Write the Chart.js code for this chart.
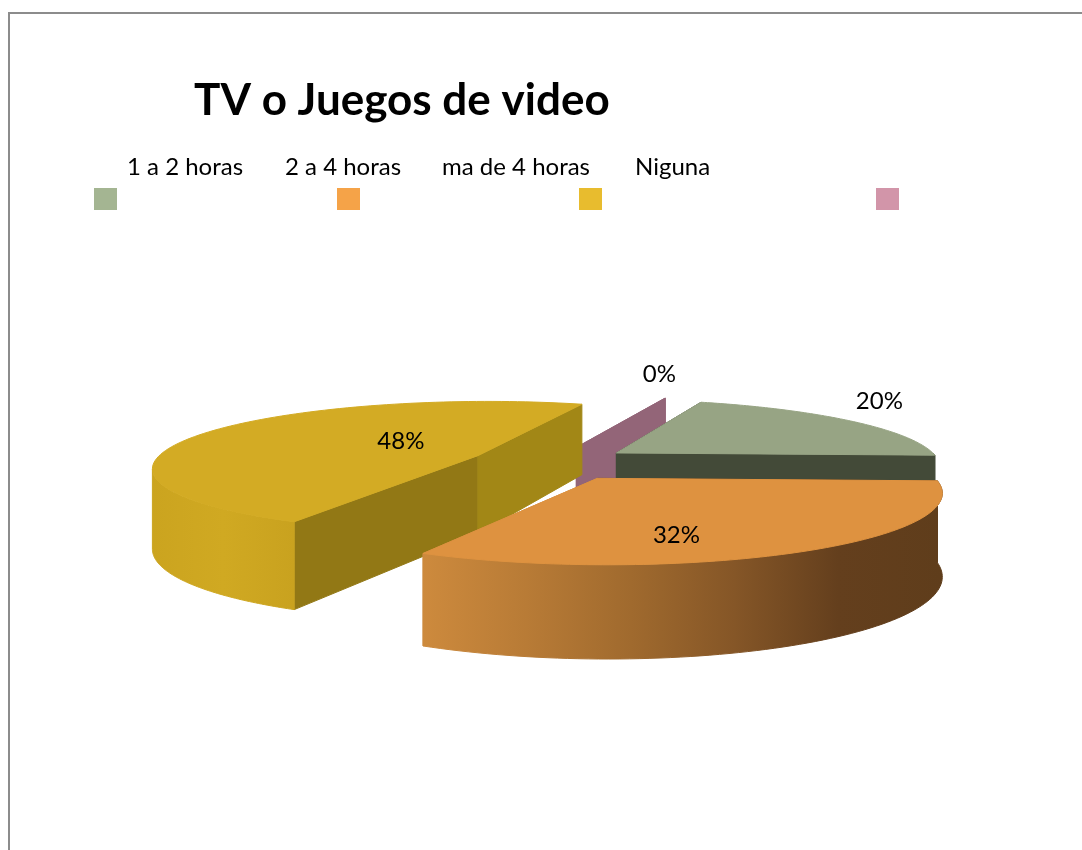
<!DOCTYPE html>
<html>
<head>
<meta charset="utf-8">
<script src="https://cdn.jsdelivr.net/npm/chart.js@4"></script>
<style>
html,body{margin:0;padding:0;background:#fff;overflow:hidden}
#frame{position:absolute;left:8px;top:12px;width:1200px;height:1000px;border:2px solid #8c8c8c;box-sizing:border-box}
#wrap{position:absolute;left:0;top:0;width:1082px;height:850px}
</style>
</head>
<body>
<div id="frame"></div>
<div id="wrap"><canvas id="c" width="1082" height="850"></canvas></div>
<script>
const chartTitle = 'TV o Juegos de video';
const categories = ['1 a 2 horas', '2 a 4 horas', 'ma de 4 horas', 'Niguna'];
const values = [20, 32, 48, 0];
const swatchColors = ['#a4b592', '#f5a348', '#e8bc2e', '#d295a9'];

// styling of the faked 3D pie
const sliceOffsets = [82, 90, 80, 80];
const topColors = ['#97a484', '#de9240', '#d3ab24', '#936578'];
const startWallColors = ['#434a38', '#5d3a1a', '#927815', '#936578'];
const endWallColors = ['#434a38', '#cb883c', '#a28716', '#936578'];
const outerWallStops = [
  ['#434a38', '#434a38'],
  ['#cd8a3d', '#b87b36', '#a06a2e', '#855627', '#643f1d', '#5f3d1b'],
  ['#cba41f', '#d0a922', '#c9a21f'],
  ['#936578', '#936578']
];
const paintOrder = [3, 0, 2, 1];
const labelOffsets = [[263, -52], [79, 57], [-77, -14], [83, -73]];
const legendTextX = [127, 285, 442, 635];
const legendSwatchX = [94, 337, 579, 876];
const camera = { x: 550, y: 462, squash: 0.202, persp: 0.17, depthA: 22, depthB: 57 };

function project(arc, angle, r) {
  const p = arc.getProps(['startAngle', 'endAngle', 'outerRadius'], true);
  const mid = (p.startAngle + p.endAngle) / 2;
  const e = arc.options.offset / p.outerRadius;
  const U = e * Math.cos(mid) + r * Math.cos(angle);
  const V = e * Math.sin(mid) + r * Math.sin(angle);
  const s = 1 / (1 - camera.persp * V);
  return {
    x: camera.x + U * p.outerRadius * s,
    y: camera.y + V * p.outerRadius * camera.squash * s,
    d: camera.depthA + camera.depthB * s
  };
}
function poly(ctx, pts, fill) {
  ctx.beginPath();
  pts.forEach((q, i) => i ? ctx.lineTo(q.x, q.y) : ctx.moveTo(q.x, q.y));
  ctx.closePath();
  ctx.fillStyle = fill;
  ctx.fill();
  ctx.strokeStyle = fill;
  ctx.lineWidth = 1;
  ctx.stroke();
}
function radialWall(ctx, arc, angle, fill) {
  const a = project(arc, angle, 0), b = project(arc, angle, 1);
  poly(ctx, [a, b, { x: b.x, y: b.y + b.d }, { x: a.x, y: a.y + a.d }], fill);
}
const pie3d = {
  id: 'pie3d',
  beforeDatasetDraw(chart, args) {
    const ctx = chart.ctx, arcs = args.meta.data;
    paintOrder.forEach(i => {
      const arc = arcs[i];
      const { startAngle: a0, endAngle: a1 } = arc.getProps(['startAngle', 'endAngle'], true);
      radialWall(ctx, arc, a0, startWallColors[i]);
      radialWall(ctx, arc, a1, endWallColors[i]);
      if (a1 - a0 < 1e-6) return;
      const w0 = Math.max(a0, 0), w1 = Math.min(a1, Math.PI * 0.933);
      if (w1 > w0) {
        const upper = [];
        for (let k = 0; k <= 80; k++) upper.push(project(arc, w0 + (w1 - w0) * k / 80, 1));
        const lower = upper.map(q => ({ x: q.x, y: q.y + q.d })).reverse();
        const xs = upper.map(q => q.x);
        const g = ctx.createLinearGradient(Math.min(...xs), 0, Math.max(...xs), 0);
        outerWallStops[i].forEach((c, k, list) => g.addColorStop(k / (list.length - 1), c));
        poly(ctx, upper.concat(lower), g);
      }
      const face = [project(arc, a0, 0)];
      for (let k = 0; k <= 100; k++) face.push(project(arc, a0 + (a1 - a0) * k / 100, 1));
      poly(ctx, face, topColors[i]);
    });
    return false;
  },
  afterDatasetsDraw(chart) {
    const ctx = chart.ctx, arcs = chart.getDatasetMeta(0).data;
    const total = values.reduce((s, v) => s + v, 0);
    ctx.save();
    ctx.fillStyle = '#000';
    ctx.textAlign = 'center';
    ctx.textBaseline = 'middle';
    ctx.font = '24px Lato';
    arcs.forEach((arc, i) => {
      const a = project(arc, arc.getProps(['startAngle'], true).startAngle, 0);
      ctx.fillText(Math.round(values[i] / total * 100) + '%', a.x + labelOffsets[i][0], a.y + labelOffsets[i][1]);
    });
    ctx.textAlign = 'left';
    categories.forEach((name, i) => {
      ctx.fillStyle = '#000';
      ctx.fillText(name, legendTextX[i], 167);
      ctx.fillStyle = swatchColors[i];
      ctx.fillRect(legendSwatchX[i], 188, 23, 22);
    });
    ctx.restore();
  }
};
new Chart(document.getElementById('c'), {
  type: 'pie',
  data: {
    labels: categories,
    datasets: [{ data: values, backgroundColor: swatchColors, borderWidth: 0, offset: sliceOffsets }]
  },
  options: {
    responsive: false,
    animation: false,
    rotation: 20,
    radius: 324,
    layout: { padding: { left: 194 } },
    plugins: {
      legend: { display: false },
      tooltip: { enabled: false },
      title: {
        display: true,
        text: chartTitle,
        align: 'start',
        color: '#000',
        font: { family: 'Lato', size: 44, weight: 'bold' },
        padding: { top: 74, bottom: 20 }
      }
    }
  },
  plugins: [pie3d]
});
</script>
</body>
</html>
